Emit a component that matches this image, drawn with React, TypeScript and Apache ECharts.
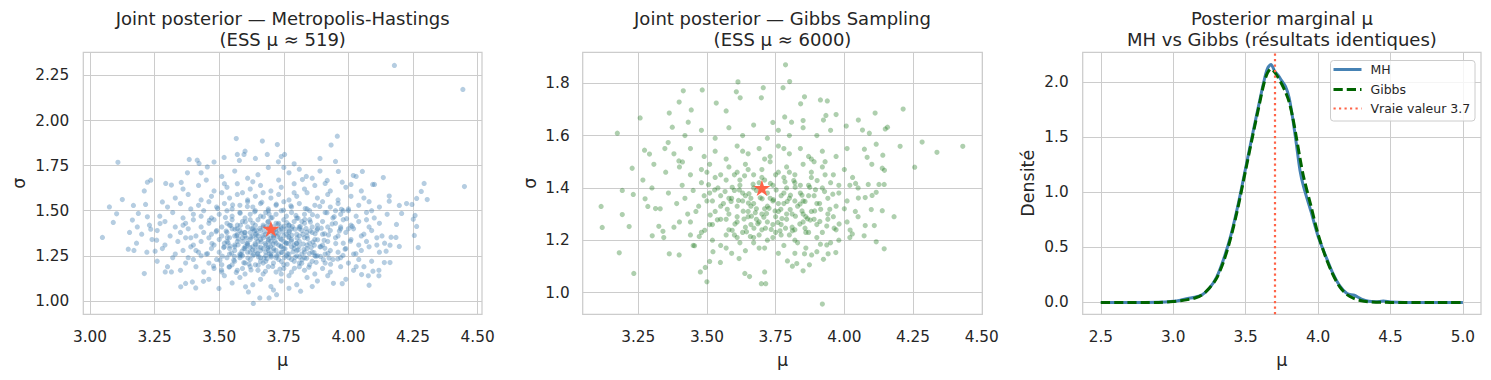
import React, { useEffect, useRef } from "react";
import * as echarts from "echarts";

const FONT = "'DejaVu Sans', sans-serif";
const TEXT = "#262626";
const GRIDC = "#cccccc";
const MH_COLOR = "#4682B4";
const GIBBS_COLOR = "#006400";
const TRUE_COLOR = "#FF6347";

// ---- tick labels ----
const muTicksMH = [3.0, 3.25, 3.5, 3.75, 4.0, 4.25, 4.5];
const sigmaTicksMH = [1.0, 1.25, 1.5, 1.75, 2.0, 2.25];
const muTicksGibbs = [3.25, 3.5, 3.75, 4.0, 4.25, 4.5];
const sigmaTicksGibbs = [1.0, 1.2, 1.4, 1.6, 1.8];
const muTicksDensity = [2.5, 3.0, 3.5, 4.0, 4.5, 5.0];
const densityTicks = [0, 0.5, 1.0, 1.5, 2.0];

// ---- true values ----
const trueMu = 3.7;
const trueSigma = 1.4;

// ---- Metropolis-Hastings samples [mu, sigma] ----
const mhSamples: [number, number][] = [
  [3.048,1.352],[3.108,1.768],[3.075,1.521],[3.09,1.435],[3.103,1.483],[3.125,1.562],[3.153,1.38],[3.148,1.287],[3.17,1.28],[3.21,1.152],
  [3.168,1.529],[3.187,1.485],[3.164,1.448],[3.183,1.41],[3.222,1.658],[3.235,1.669],[3.21,1.61],[3.215,1.535],[3.222,1.466],[3.235,1.398],
  [3.252,1.276],[3.258,1.337],[3.271,1.429],[3.28,1.549],[3.293,1.651],[3.315,1.642],[3.291,1.161],[3.315,1.161],[3.351,1.078],[3.37,1.097],
  [3.396,1.105],[3.409,1.072],[3.439,1.109],[3.384,1.784],[3.415,1.78],[3.422,1.762],[3.377,1.71],[3.353,1.657],[3.454,1.743],[3.499,1.069],
  [3.566,1.9],[3.57,1.812],[3.596,1.812],[3.578,1.779],[3.667,1.886],[3.725,1.867],[3.686,1.812],[3.729,1.771],[3.519,1.795],[3.632,0.986],
  [3.657,1.017],[3.693,1.017],[3.722,1.035],[3.602,1.078],[3.613,1.05],[3.957,1.913],[3.933,1.864],[3.95,1.773],[3.961,1.718],[4.449,1.634],
  [4.293,1.651],[4.282,1.607],[4.264,1.568],[4.305,1.562],[4.258,1.474],[4.251,1.453],[4.264,1.413],[4.255,1.363],[4.27,1.296],[4.225,1.54],
  [4.197,1.529],[4.246,1.535],[4.206,1.485],[4.186,1.424],[4.184,1.352],[4.197,1.302],[4.165,1.353],[4.161,1.309],[4.161,1.213],[4.139,1.213],
  [4.146,1.276],[4.118,1.17],[4.118,1.139],[4.08,1.087],[4.095,1.165],[4.135,1.684],[4.158,1.581],[4.158,1.553],[4.094,1.646],[4.101,1.646],
  [4.054,1.718],[4.019,1.695],[4.03,1.69],[4.01,1.646],[3.976,1.658],[3.918,1.668],[3.91,1.651],[3.837,1.69],[3.822,1.673],[3.942,1.098],
  [3.976,1.096],[3.815,1.054],[4.051,1.146],[4.077,1.139],[4.443,2.172],[4.178,2.305],[3.753,1.812],
  [3.46,1.12],[3.52,1.14],[3.55,1.10],[3.58,1.13],[3.63,1.09],[3.66,1.12],[3.70,1.08],[3.74,1.11],[3.77,1.14],[3.80,1.09],[3.84,1.13],[3.88,1.11],
  [3.92,1.14],[3.99,1.12],[3.71,1.06],[3.77,1.07],[3.86,1.08],
  [3.35,1.17],[3.41,1.19],[3.44,1.16],[3.48,1.18],[3.51,1.16],[3.54,1.19],[3.57,1.17],[3.60,1.15],[3.62,1.19],[3.65,1.17],[3.67,1.15],[3.69,1.19],
  [3.72,1.16],[3.75,1.18],[3.78,1.16],[3.81,1.19],[3.83,1.17],[3.87,1.15],[3.90,1.18],[3.93,1.16],[3.97,1.19],[4.02,1.17],[4.06,1.19],[3.30,1.19],
  [3.59,1.18],[3.74,1.15],[3.85,1.20],
  [3.26,1.22],[3.32,1.24],[3.37,1.21],[3.40,1.23],[3.43,1.25],[3.46,1.21],[3.49,1.23],[3.51,1.20],[3.53,1.24],[3.56,1.22],[3.58,1.25],[3.60,1.21],
  [3.62,1.23],[3.64,1.20],[3.66,1.24],[3.68,1.22],[3.70,1.25],[3.71,1.21],[3.73,1.23],[3.75,1.20],[3.77,1.24],[3.79,1.22],[3.81,1.21],[3.83,1.24],
  [3.86,1.22],[3.88,1.25],[3.91,1.21],[3.94,1.23],[3.97,1.24],[4.00,1.21],[4.04,1.23],[4.09,1.22],[3.55,1.20],[3.67,1.21],[3.80,1.25],[3.63,1.25],[3.72,1.24],
  [3.22,1.27],[3.28,1.29],[3.33,1.26],[3.36,1.28],[3.39,1.30],[3.42,1.27],[3.45,1.26],[3.47,1.29],[3.50,1.27],[3.52,1.30],[3.54,1.26],[3.56,1.28],
  [3.58,1.26],[3.60,1.29],[3.61,1.27],[3.63,1.30],[3.65,1.26],[3.66,1.28],[3.68,1.27],[3.69,1.30],[3.70,1.26],[3.72,1.28],[3.74,1.27],[3.75,1.29],
  [3.77,1.26],[3.78,1.30],[3.80,1.28],[3.82,1.26],[3.84,1.29],[3.86,1.27],[3.89,1.30],[3.91,1.26],[3.93,1.28],[3.96,1.27],[3.99,1.29],[4.02,1.26],
  [4.05,1.28],[4.08,1.30],[4.12,1.27],[3.59,1.25],[3.67,1.29],[3.71,1.29],[3.76,1.25],[3.64,1.28],[3.54,1.29],[3.87,1.25],
  [3.18,1.32],[3.24,1.34],[3.29,1.31],[3.34,1.33],[3.37,1.35],[3.40,1.31],[3.43,1.33],[3.46,1.35],[3.48,1.31],[3.50,1.34],[3.52,1.32],[3.54,1.35],
  [3.56,1.31],[3.57,1.33],[3.59,1.35],[3.61,1.32],[3.62,1.34],[3.64,1.31],[3.65,1.33],[3.67,1.35],[3.68,1.31],[3.70,1.33],[3.71,1.35],[3.73,1.31],
  [3.74,1.34],[3.76,1.32],[3.77,1.35],[3.79,1.31],[3.81,1.33],[3.83,1.35],[3.85,1.32],[3.87,1.34],[3.90,1.31],[3.92,1.33],[3.95,1.35],[3.98,1.32],
  [4.01,1.34],[4.04,1.31],[4.07,1.33],[4.11,1.35],[4.14,1.32],[3.60,1.30],[3.66,1.34],[3.72,1.32],[3.78,1.34],[3.53,1.33],[3.84,1.31],[3.69,1.34],
  [3.20,1.37],[3.26,1.39],[3.31,1.36],[3.35,1.38],[3.38,1.40],[3.41,1.36],[3.44,1.38],[3.47,1.37],[3.49,1.39],[3.51,1.36],[3.53,1.38],[3.55,1.40],
  [3.57,1.37],[3.58,1.39],[3.60,1.36],[3.62,1.38],[3.63,1.40],[3.65,1.36],[3.66,1.39],[3.68,1.37],[3.69,1.40],[3.71,1.36],[3.72,1.38],[3.74,1.40],
  [3.75,1.36],[3.77,1.38],[3.78,1.40],[3.80,1.37],[3.82,1.39],[3.84,1.36],[3.86,1.38],[3.88,1.40],[3.90,1.37],[3.93,1.39],[3.96,1.36],[3.99,1.38],
  [4.02,1.40],[4.06,1.37],[4.09,1.39],[4.13,1.36],[3.64,1.37],[3.70,1.38],[3.76,1.37],[3.56,1.36],[3.81,1.40],[3.97,1.40],[4.00,1.40],
  [3.23,1.42],[3.29,1.44],[3.33,1.41],[3.37,1.43],[3.40,1.45],[3.43,1.41],[3.46,1.43],[3.48,1.45],[3.51,1.41],[3.53,1.43],[3.55,1.45],[3.57,1.42],
  [3.59,1.44],[3.61,1.41],[3.63,1.43],[3.65,1.45],[3.67,1.42],[3.69,1.44],[3.71,1.41],[3.73,1.43],[3.75,1.45],[3.77,1.42],[3.79,1.44],[3.81,1.41],
  [3.83,1.43],[3.85,1.45],[3.88,1.42],[3.90,1.44],[3.92,1.41],[3.95,1.43],[3.98,1.45],[4.01,1.42],[4.04,1.44],[4.08,1.41],[4.12,1.43],[3.62,1.45],
  [3.74,1.41],[3.86,1.41],[3.97,1.41],[3.54,1.42],
  [3.27,1.47],[3.32,1.49],[3.36,1.46],[3.40,1.48],[3.44,1.50],[3.47,1.46],[3.50,1.48],[3.53,1.50],[3.55,1.47],[3.58,1.49],[3.60,1.46],[3.62,1.48],
  [3.64,1.50],[3.66,1.47],[3.68,1.49],[3.70,1.46],[3.72,1.48],[3.74,1.50],[3.76,1.47],[3.78,1.49],[3.80,1.46],[3.83,1.48],[3.85,1.50],[3.88,1.47],
  [3.91,1.49],[3.94,1.46],[3.97,1.48],[4.00,1.50],[4.03,1.47],[4.07,1.49],[4.10,1.46],[4.15,1.48],[3.95,1.50],[3.98,1.50],[3.69,1.50],
  [3.30,1.52],[3.35,1.54],[3.39,1.51],[3.42,1.53],[3.46,1.55],[3.49,1.52],[3.52,1.54],[3.55,1.51],[3.58,1.53],[3.61,1.55],[3.63,1.52],[3.66,1.54],
  [3.69,1.51],[3.72,1.53],[3.75,1.55],[3.78,1.52],[3.81,1.54],[3.84,1.51],[3.87,1.53],[3.90,1.55],[3.93,1.52],[3.96,1.54],[4.00,1.51],[4.04,1.53],
  [4.08,1.55],[4.12,1.52],
  [3.33,1.57],[3.38,1.59],[3.43,1.56],[3.47,1.58],[3.51,1.60],[3.54,1.57],[3.57,1.59],[3.61,1.56],[3.64,1.58],[3.67,1.60],[3.70,1.57],[3.73,1.59],
  [3.77,1.56],[3.80,1.58],[3.84,1.60],[3.88,1.57],[3.92,1.59],[3.96,1.56],[4.01,1.58],[4.06,1.57],[3.59,1.60],[3.79,1.60],
  [3.36,1.62],[3.42,1.64],[3.48,1.61],[3.53,1.63],[3.57,1.65],[3.62,1.62],[3.66,1.64],[3.70,1.61],[3.74,1.63],[3.79,1.65],[3.83,1.62],[3.87,1.64],
  [3.93,1.61],[3.99,1.63],[4.05,1.61],[3.52,1.65],
  [3.45,1.67],[3.51,1.69],[3.56,1.72],[3.61,1.68],[3.65,1.70],[3.69,1.74],[3.73,1.67],[3.77,1.71],[3.81,1.73],[3.86,1.68],[3.43,1.71],[3.63,1.66],
  [3.75,1.74],[3.89,1.72],
  [3.48,1.77],[3.64,1.79],[3.79,1.76],[3.60,1.83],[3.74,1.80],[3.89,1.79],
  [3.58,1.24],[3.61,1.31],[3.63,1.36],[3.66,1.22],[3.67,1.41],[3.69,1.28],[3.70,1.35],[3.72,1.43],[3.73,1.26],[3.75,1.33],[3.76,1.40],[3.78,1.23],
  [3.79,1.29],[3.81,1.36],[3.82,1.44],[3.57,1.40],[3.59,1.33],[3.62,1.27],[3.64,1.42],[3.65,1.30],[3.68,1.25],[3.71,1.39],[3.74,1.30],[3.77,1.42],
  [3.80,1.32],[3.83,1.27],[3.56,1.30],[3.60,1.38],[3.69,1.33],[3.73,1.37],
  [3.455,1.262],[3.472,1.318],[3.488,1.384],[3.503,1.226],[3.517,1.296],[3.531,1.352],[3.545,1.418],[3.559,1.247],[3.573,1.311],[3.587,1.376],
  [3.601,1.438],[3.615,1.205],[3.629,1.283],[3.643,1.346],[3.657,1.402],[3.671,1.466],[3.685,1.234],[3.699,1.302],[3.713,1.368],[3.727,1.423],
  [3.741,1.218],[3.755,1.289],[3.769,1.357],[3.783,1.412],[3.797,1.474],[3.811,1.243],[3.825,1.315],[3.839,1.381],[3.853,1.437],[3.867,1.268],
  [3.881,1.339],[3.895,1.403],[3.909,1.292],[3.923,1.366],[3.937,1.427],[3.951,1.318],[3.965,1.388],[3.979,1.252],[3.993,1.456],[4.008,1.331],
  [3.462,1.447],[3.478,1.193],[3.494,1.512],[3.509,1.171],[3.524,1.463],[3.538,1.188],[3.552,1.532],[3.566,1.158],[3.581,1.486],[3.595,1.212],
  [3.609,1.523],[3.623,1.172],[3.637,1.494],[3.651,1.198],[3.665,1.547],[3.679,1.164],[3.693,1.482],[3.707,1.191],[3.721,1.536],[3.735,1.176],
  [3.749,1.503],[3.763,1.203],[3.777,1.527],[3.791,1.181],[3.805,1.458],[3.819,1.209],[3.833,1.512],[3.847,1.187],[3.861,1.478],[3.875,1.214],
  [3.889,1.524],[3.903,1.229],[3.917,1.489],[3.931,1.204],[3.945,1.467],[3.959,1.233],[3.973,1.508],[3.987,1.287],[4.015,1.413],[4.029,1.262],
  [3.607,1.318],[3.622,1.353],[3.636,1.389],[3.648,1.262],[3.662,1.327],[3.676,1.384],[3.688,1.291],[3.702,1.243],[3.716,1.331],[3.731,1.395],
  [3.744,1.268],[3.758,1.321],[3.772,1.388],[3.786,1.272],[3.801,1.349],[3.814,1.413],[3.828,1.285],[3.842,1.346],[3.856,1.296],[3.871,1.372],
  [3.588,1.276],[3.574,1.344],[3.561,1.398],[3.548,1.265],[3.534,1.323],[3.892,1.247],[3.906,1.336],[3.921,1.264],[3.688,1.437],[3.705,1.462],
  [3.41,1.28],[3.39,1.35],[3.36,1.42],[3.43,1.47],[3.38,1.24],[4.05,1.36],[4.07,1.45],[4.03,1.19],[4.11,1.31],[4.09,1.50],
  [3.512,1.248],[3.527,1.387],[3.541,1.305],[3.556,1.226],[3.568,1.362],[3.582,1.419],[3.596,1.291],[3.611,1.238],[3.626,1.402],[3.639,1.318],
  [3.652,1.244],[3.667,1.362],[3.681,1.413],[3.694,1.262],[3.708,1.316],[3.722,1.251],[3.736,1.346],[3.751,1.414],[3.764,1.262],[3.779,1.331],
  [3.793,1.398],[3.806,1.283],[3.821,1.229],[3.836,1.402],[3.849,1.263],[3.863,1.326],[3.878,1.392],[3.893,1.301],[3.908,1.372],[3.925,1.238],
  [3.604,1.348],[3.619,1.296],[3.634,1.258],[3.646,1.372],[3.661,1.296],[3.673,1.238],[3.686,1.356],[3.698,1.418],[3.711,1.278],[3.725,1.357],
  [3.739,1.304],[3.752,1.241],[3.767,1.318],[3.781,1.364],[3.794,1.242],[3.809,1.303],[3.824,1.369],[3.838,1.236],[3.852,1.388],[3.868,1.309],
  [3.585,1.258],[3.598,1.379],[3.642,1.392],[3.678,1.318],[3.718,1.396],[3.746,1.384],[3.762,1.434],[3.798,1.318],[3.831,1.452],[3.874,1.248],
];

// ---- Gibbs samples [mu, sigma] ----
const gibbsSamples: [number, number][] = [
  [3.115,1.329],[3.119,1.249],[3.174,1.609],[3.181,1.152],[3.192,1.39],[3.192,1.298],[3.217,1.252],[3.228,1.475],[3.234,1.073],[3.232,1.375],
  [3.257,1.667],[3.267,1.43],[3.273,1.544],[3.291,1.529],[3.275,1.358],[3.285,1.329],[3.301,1.217],[3.307,1.49],[3.313,1.321],[3.325,1.253],
  [3.34,1.234],[3.343,1.21],[3.363,1.148],[3.399,1.144],[3.363,1.686],[3.374,1.632],[3.399,1.728],[3.414,1.771],[3.443,1.698],[3.432,1.651],
  [3.483,1.774],[3.534,1.724],[3.57,1.694],[3.613,1.805],[3.607,1.767],[3.621,1.744],[3.705,1.783],[3.698,1.744],[3.476,1.079],[3.5,1.041],
  [3.494,1.096],[3.455,1.179],[3.698,1.034],[3.714,1.034],[3.71,1.079],[3.655,1.061],[3.638,1.073],[3.617,1.13],[3.549,1.115],[3.522,1.156],
  [3.51,1.119],[3.359,1.573],[3.347,1.55],[3.411,1.499],[3.398,1.503],
  [3.786,1.870],[3.801,1.806],[3.777,1.783],[3.855,1.748],[3.841,1.721],[3.913,1.736],[3.938,1.732],[3.933,1.677],[3.924,1.659],[3.97,1.68],
  [3.783,1.671],[3.808,1.651],[3.85,1.657],[4.112,1.686],[4.214,1.701],[4.051,1.659],[4.007,1.636],[4.066,1.621],[4.091,1.609],[4.149,1.625],
  [4.157,1.632],[4.283,1.575],[4.337,1.536],[4.431,1.559],[4.203,1.559],[4.256,1.479],[4.116,1.567],[4.14,1.525],[4.073,1.548],[4.083,1.517],
  [4.1,1.49],[4.138,1.475],[4.146,1.467],[4.087,1.413],[4.126,1.413],[4.145,1.413],[4.116,1.383],[4.101,1.371],[4.076,1.363],[4.181,1.29],
  [4.138,1.313],[4.098,1.317],[4.109,1.256],[4.076,1.256],[4.072,1.217],[4.116,1.194],[4.145,1.167],[3.92,0.956],[3.969,1.153],[3.924,1.127],
  [3.941,1.148],[3.85,1.083],[3.873,1.106],[3.827,1.111],[3.811,1.101],[3.793,1.121],[3.855,1.148],[3.881,1.144],[3.9,1.156],[3.913,1.185],
  [3.936,1.182],[4.029,1.224],[4.021,1.239],[4.051,1.361],[4.05,1.4],[4.041,1.417],
  [3.45,1.18],[3.52,1.20],[3.57,1.17],[3.61,1.21],[3.64,1.16],[3.67,1.19],[3.71,1.17],[3.74,1.21],[3.78,1.18],[3.82,1.20],[3.86,1.17],[3.90,1.21],
  [3.95,1.19],[3.59,1.15],[3.76,1.15],[3.69,1.22],
  [3.38,1.25],[3.44,1.27],[3.48,1.23],[3.52,1.26],[3.55,1.28],[3.58,1.24],[3.61,1.27],[3.63,1.23],[3.66,1.26],[3.68,1.28],[3.70,1.24],[3.72,1.27],
  [3.75,1.23],[3.77,1.26],[3.79,1.28],[3.82,1.24],[3.85,1.27],[3.87,1.23],[3.90,1.26],[3.94,1.28],[3.97,1.24],[4.01,1.27],[3.65,1.29],[3.80,1.22],[3.60,1.22],
  [3.33,1.32],[3.39,1.34],[3.43,1.30],[3.47,1.33],[3.50,1.35],[3.53,1.31],[3.56,1.34],[3.58,1.30],[3.61,1.33],[3.63,1.35],[3.65,1.31],[3.67,1.34],
  [3.70,1.30],[3.72,1.33],[3.74,1.35],[3.76,1.31],[3.78,1.34],[3.81,1.30],[3.83,1.33],[3.85,1.35],[3.88,1.31],[3.91,1.34],[3.94,1.30],[3.97,1.33],
  [4.01,1.35],[4.04,1.31],[3.68,1.32],[3.75,1.29],[3.59,1.36],[3.86,1.29],
  [3.30,1.40],[3.36,1.38],[3.41,1.41],[3.45,1.39],[3.48,1.42],[3.51,1.38],[3.54,1.40],[3.57,1.43],[3.60,1.39],[3.62,1.41],[3.64,1.37],[3.67,1.40],
  [3.69,1.42],[3.72,1.38],[3.74,1.41],[3.77,1.37],[3.79,1.40],[3.82,1.42],[3.84,1.38],[3.87,1.41],[3.89,1.37],[3.92,1.40],[3.95,1.42],[3.98,1.38],
  [4.02,1.41],[3.66,1.36],[3.80,1.36],[3.55,1.37],[3.71,1.43],
  [3.35,1.46],[3.40,1.48],[3.44,1.45],[3.48,1.47],[3.51,1.49],[3.55,1.45],[3.58,1.48],[3.61,1.46],[3.64,1.49],[3.67,1.45],[3.70,1.47],[3.73,1.50],
  [3.76,1.46],[3.79,1.48],[3.82,1.45],[3.85,1.49],[3.88,1.46],[3.92,1.48],[3.96,1.45],[4.00,1.47],[3.62,1.43],[3.78,1.44],[3.89,1.50],
  [3.38,1.53],[3.44,1.55],[3.49,1.52],[3.53,1.54],[3.57,1.51],[3.61,1.56],[3.65,1.53],[3.69,1.55],[3.73,1.52],[3.76,1.56],[3.80,1.53],[3.84,1.55],
  [3.88,1.51],[3.92,1.54],[3.97,1.52],[4.01,1.55],[3.71,1.51],
  [3.42,1.60],[3.48,1.62],[3.53,1.59],[3.58,1.63],[3.63,1.60],[3.67,1.64],[3.72,1.59],[3.76,1.62],[3.80,1.60],[3.85,1.63],[3.90,1.60],[3.95,1.62],[3.74,1.65],
  [3.46,1.31],[3.49,1.37],[3.51,1.26],[3.53,1.44],[3.55,1.33],[3.57,1.22],[3.58,1.36],[3.60,1.45],[3.61,1.29],[3.62,1.19],[3.63,1.38],[3.64,1.25],
  [3.65,1.47],[3.66,1.33],[3.67,1.21],[3.68,1.39],[3.69,1.27],[3.70,1.44],[3.71,1.32],[3.72,1.20],[3.73,1.36],[3.74,1.26],[3.75,1.45],[3.76,1.34],
  [3.77,1.22],[3.78,1.38],[3.79,1.30],[3.80,1.46],[3.81,1.25],[3.82,1.35],[3.83,1.19],[3.84,1.41],[3.85,1.30],[3.86,1.23],[3.87,1.37],[3.88,1.44],
  [3.89,1.28],[3.90,1.34],[3.92,1.23],[3.93,1.45],[3.94,1.36],[3.96,1.29],[3.98,1.41],[4.00,1.32],[4.02,1.21],
  [3.472,1.214],[3.506,1.412],[3.538,1.278],[3.566,1.386],[3.592,1.238],[3.615,1.352],[3.637,1.446],[3.658,1.214],[3.676,1.305],[3.694,1.362],
  [3.713,1.246],[3.731,1.417],[3.748,1.312],[3.766,1.236],[3.784,1.423],[3.803,1.317],[3.821,1.402],[3.838,1.262],[3.857,1.348],[3.876,1.277],
  [3.895,1.393],[3.914,1.318],[3.936,1.254],[3.958,1.376],[3.981,1.262],[3.632,1.311],[3.653,1.378],[3.671,1.246],[3.707,1.288],[3.742,1.355],
  [3.773,1.283],[3.811,1.236],[3.846,1.312],[3.592,1.402],[3.57,1.28],[3.52,1.35],[3.42,1.36],[3.40,1.27],[3.44,1.22],[4.05,1.29],
  [4.03,1.44],[3.98,1.20],[3.63,1.54],[3.78,1.55],[3.69,1.17],[3.82,1.15],[3.55,1.18],[3.87,1.52],[3.50,1.46],[3.93,1.50],
  [3.602,1.262],[3.618,1.392],[3.635,1.281],[3.651,1.342],[3.668,1.414],[3.685,1.263],[3.701,1.358],[3.717,1.302],[3.734,1.241],[3.752,1.392],
  [3.769,1.318],[3.786,1.246],[3.804,1.372],[3.822,1.292],[3.839,1.338],[3.857,1.246],[3.874,1.402],[3.892,1.312],[3.911,1.272],[3.928,1.386],
  [3.574,1.318],[3.588,1.348],[3.644,1.232],[3.662,1.292],[3.726,1.322],[3.758,1.268],[3.792,1.348],[3.816,1.428],[3.846,1.372],[3.866,1.282],
  [3.901,1.428],[3.947,1.318],[3.963,1.246],[3.528,1.392],[3.512,1.296],[3.492,1.238],
];

// ---- posterior marginal density of mu ----
const densityGrid = [2.5,2.6,2.7,2.8,2.9,3.0,3.05,3.1,3.15,3.2,3.25,3.3,3.35,3.4,3.45,3.5,3.55,3.6,3.625,3.65,3.675,3.7,3.725,3.75,3.775,3.8,3.825,3.85,3.875,3.9,3.95,4.0,4.05,4.1,4.15,4.2,4.25,4.3,4.35,4.4,4.45,4.5,4.6,4.7,4.8,4.9,5.0];
const mhDensity = [0,0,0,0,0.001,0.01,0.02,0.035,0.047,0.07,0.13,0.23,0.40,0.62,0.90,1.22,1.54,1.85,2.0,2.12,2.16,2.10,2.06,2.01,1.96,1.86,1.67,1.44,1.20,1.05,0.83,0.60,0.43,0.27,0.15,0.08,0.065,0.03,0.01,0.006,0.012,0.004,0,0,0,0,0];
const gibbsDensity = [0,0,0,0,0,0.008,0.015,0.025,0.04,0.07,0.13,0.22,0.38,0.60,0.88,1.20,1.52,1.83,1.98,2.08,2.12,2.09,2.04,1.98,1.91,1.82,1.68,1.50,1.31,1.14,0.88,0.62,0.42,0.26,0.14,0.07,0.035,0.015,0.006,0.002,0.001,0,0,0,0,0,0];

const STAR = "path://M50,0 L61.2,34.5 L97.6,34.5 L68.2,55.9 L79.4,90.5 L50,69.1 L20.6,90.5 L31.8,55.9 L2.4,34.5 L38.8,34.5 Z";

function makeAxis(
  gridIndex: number,
  min: number,
  max: number,
  ticks: number[],
  decimals: number,
  name: string,
  nameGap: number,
  labelMargin: number
) {
  return {
    type: "value",
    gridIndex,
    min,
    max,
    name,
    nameLocation: "middle",
    nameGap,
    nameTextStyle: { fontFamily: FONT, fontSize: 17.5, color: TEXT },
    axisLine: { show: false },
    axisTick: { show: false, customValues: ticks },
    axisLabel: {
      customValues: ticks,
      formatter: (v: number) => v.toFixed(decimals),
      fontFamily: FONT,
      fontSize: 15.3,
      color: TEXT,
      margin: labelMargin,
    },
    splitLine: { show: true, lineStyle: { color: GRIDC, width: 1 } },
  };
}

function titleText(x: number, text: string) {
  return {
    type: "text",
    x,
    y: 8,
    z: 100,
    style: {
      text,
      textAlign: "center",
      textVerticalAlign: "top",
      verticalAlign: "top",
      fontFamily: FONT,
      fontSize: 18,
      lineHeight: 21,
      fill: TEXT,
    },
  };
}

function legendText(y: number, text: string) {
  return {
    type: "text",
    x: 1370.5,
    y,
    z: 102,
    style: {
      text,
      textAlign: "left",
      textVerticalAlign: "middle",
      verticalAlign: "middle",
      fontFamily: FONT,
      fontSize: 12.5,
      fill: TEXT,
    },
  };
}

export default function App() {
  const ref = useRef<HTMLDivElement>(null);

  useEffect(() => {
    if (!ref.current) return;
    const chart = echarts.init(ref.current, null, { renderer: "svg" });

    const grids = [
      { left: 83.3, top: 52.3, width: 398.7, height: 262 },
      { left: 582.7, top: 52.3, width: 399.6, height: 262 },
      { left: 1082.7, top: 52.3, width: 398.3, height: 262 },
    ].map((g) => ({ ...g, show: true, borderColor: GRIDC, borderWidth: 1.25, containLabel: false }));

    const option: any = {
      animation: false,
      backgroundColor: "#ffffff",
      grid: grids,
      xAxis: [
        makeAxis(0, 2.974, 4.517, muTicksMH, 2, "μ", 37, 15),
        makeAxis(1, 3.048, 4.502, muTicksGibbs, 2, "μ", 37, 15),
        makeAxis(2, 2.375, 5.125, muTicksDensity, 1, "μ", 37, 15),
      ],
      yAxis: [
        makeAxis(0, 0.926, 2.378, sigmaTicksMH, 2, "σ", 55, 14),
        makeAxis(1, 0.917, 1.918, sigmaTicksGibbs, 1, "σ", 44, 13),
        makeAxis(2, -0.108, 2.27, densityTicks, 1, "Densité", 46, 14),
      ],
      series: [
        {
          type: "scatter",
          xAxisIndex: 0,
          yAxisIndex: 0,
          data: mhSamples,
          symbolSize: 5.2,
          itemStyle: { color: MH_COLOR, opacity: 0.4 },
          silent: true,
        },
        {
          type: "scatter",
          xAxisIndex: 0,
          yAxisIndex: 0,
          data: [[trueMu, trueSigma]],
          symbol: STAR,
          symbolKeepAspect: true,
          symbolSize: 17,
          itemStyle: { color: TRUE_COLOR, opacity: 1 },
          z: 5,
          silent: true,
        },
        {
          type: "scatter",
          xAxisIndex: 1,
          yAxisIndex: 1,
          data: gibbsSamples,
          symbolSize: 5.2,
          itemStyle: { color: "#1f7a1f", opacity: 0.36 },
          silent: true,
        },
        {
          type: "scatter",
          xAxisIndex: 1,
          yAxisIndex: 1,
          data: [[trueMu, trueSigma]],
          symbol: STAR,
          symbolKeepAspect: true,
          symbolSize: 17,
          itemStyle: { color: TRUE_COLOR, opacity: 1 },
          z: 5,
          silent: true,
        },
        {
          type: "line",
          name: "MH",
          xAxisIndex: 2,
          yAxisIndex: 2,
          data: densityGrid.map((x, i) => [x, mhDensity[i]]),
          showSymbol: false,
          smooth: 0.3,
          lineStyle: { color: MH_COLOR, width: 3 },
          silent: true,
        },
        {
          type: "line",
          name: "Gibbs",
          xAxisIndex: 2,
          yAxisIndex: 2,
          data: densityGrid.map((x, i) => [x, gibbsDensity[i]]),
          showSymbol: false,
          smooth: 0.3,
          lineStyle: { color: GIBBS_COLOR, width: 3, type: [9.25, 4] },
          silent: true,
        },
        {
          type: "line",
          name: "Vraie valeur 3.7",
          xAxisIndex: 2,
          yAxisIndex: 2,
          data: [],
          silent: true,
          markLine: {
            silent: true,
            symbol: "none",
            label: { show: false },
            lineStyle: { color: TRUE_COLOR, width: 2.2, type: [2.2, 3.3] },
            data: [{ xAxis: trueMu }],
          },
          z: 6,
        },
      ],
      graphic: [
        titleText(282.7, "Joint posterior — Metropolis-Hastings\n(ESS μ ≈ 519)"),
        titleText(782.5, "Joint posterior — Gibbs Sampling\n(ESS μ ≈ 6000)"),
        titleText(1281.9, "Posterior marginal μ\nMH vs Gibbs (résultats identiques)"),
        {
          type: "rect",
          z: 100,
          shape: { x: 1330.5, y: 60.5, width: 144.5, height: 60.5, r: 3 },
          style: { fill: "rgba(255,255,255,0.8)", stroke: "#cccccc", lineWidth: 1 },
        },
        {
          type: "line",
          z: 101,
          shape: { x1: 1333.5, y1: 69.5, x2: 1361.5, y2: 69.5 },
          style: { stroke: MH_COLOR, lineWidth: 3 },
        },
        {
          type: "line",
          z: 101,
          shape: { x1: 1333.5, y1: 89.5, x2: 1361.5, y2: 89.5 },
          style: { stroke: GIBBS_COLOR, lineWidth: 3, lineDash: [9.25, 4] },
        },
        {
          type: "line",
          z: 101,
          shape: { x1: 1333.5, y1: 108.5, x2: 1361.5, y2: 108.5 },
          style: { stroke: TRUE_COLOR, lineWidth: 2.2, lineDash: [2.2, 3.3] },
        },
        legendText(69.5, "MH"),
        legendText(89.5, "Gibbs"),
        legendText(108.5, "Vraie valeur 3.7"),
      ],
    };

    chart.setOption(option);
    return () => {
      chart.dispose();
    };
  }, []);

  return (
    <div
      ref={ref}
      style={{ position: "absolute", left: 0, top: 0, width: 1491, height: 380 }}
    />
  );
}
